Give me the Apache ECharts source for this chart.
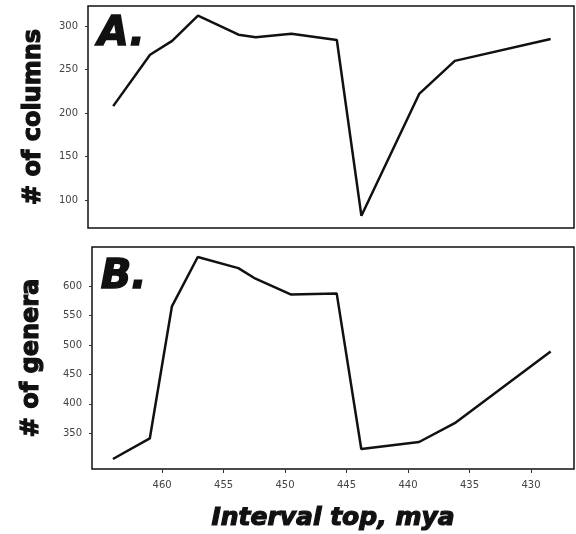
<!DOCTYPE html>
<html>
<head>
<meta charset="utf-8">
<script src="https://cdn.jsdelivr.net/npm/echarts@6/dist/echarts.min.js"></script>
<style>
  html, body { margin: 0; padding: 0; background: #fff; }
  #chart { width: 576px; height: 534px; }
</style>
</head>
<body>
<div id="chart"></div>
<script>
// interval tops (mya) shared by both panels
const intervalTops = [464.0, 461.0, 459.2, 457.1, 453.8, 452.4, 449.5, 445.8, 443.8, 439.1, 436.2, 428.4];
// panel A: number of columns
const columnCounts = [208, 267, 283, 312, 290, 287, 291, 284, 82, 222, 260, 285];
// panel B: number of genera
const generaCounts = [306, 341, 566, 650, 631, 613, 586, 588, 323, 335, 367, 489];
// tick labels
const columnTicks = [100, 150, 200, 250, 300];
const generaTicks = [350, 400, 450, 500, 550, 600];
const myaTicks = [430, 435, 440, 445, 450, 455, 460];

const chart = echarts.init(document.getElementById('chart'));

const pairs = (xs, ys) => xs.map((x, i) => [x, ys[i]]);

const labelStyle = {color: '#444', fontSize: 10, fontFamily: 'DejaVu Sans'};
// heavy titles: bold plus a thin stroke to thicken the glyphs
const titleStyle = {
  fontFamily: 'DejaVu Sans', fontWeight: 'bold', fontSize: 24, color: '#111',
  textBorderColor: '#111', textBorderWidth: 1.2
};

const option = {
  animation: false,
  backgroundColor: '#fff',
  grid: [
    {left: 88, top: 6, width: 486, height: 222, show: true, borderColor: '#111', borderWidth: 1.5},
    {left: 92, top: 247, width: 482, height: 222, show: true, borderColor: '#111', borderWidth: 1.5}
  ],
  xAxis: [
    {
      type: 'value', gridIndex: 0, inverse: true, min: 426.5, max: 466.05,
      axisLine: {show: false}, axisTick: {show: false}, axisLabel: {show: false}, splitLine: {show: false}
    },
    {
      type: 'value', gridIndex: 1, inverse: true, min: 426.5, max: 465.7,
      axisLine: {show: false},
      axisTick: {show: true, length: 4, lineStyle: {color: '#333'}, customValues: myaTicks},
      axisLabel: Object.assign({margin: 11, customValues: myaTicks}, labelStyle),
      splitLine: {show: false},
      name: 'Interval top, mya', nameLocation: 'middle', nameGap: 37,
      nameTextStyle: Object.assign({}, titleStyle, {fontStyle: 'italic', fontSize: 25})
    }
  ],
  yAxis: [
    {
      type: 'value', gridIndex: 0, min: 68, max: 323,
      axisLine: {show: false},
      axisTick: {show: true, length: 3, lineStyle: {color: '#333'}, customValues: columnTicks},
      axisLabel: Object.assign({margin: 10, customValues: columnTicks}, labelStyle),
      splitLine: {show: false},
      name: '# of columns', nameLocation: 'middle', nameGap: 42, nameTextStyle: titleStyle
    },
    {
      type: 'value', gridIndex: 1, min: 289, max: 667,
      axisLine: {show: false},
      axisTick: {show: true, length: 3, lineStyle: {color: '#333'}, customValues: generaTicks},
      axisLabel: Object.assign({margin: 10, customValues: generaTicks}, labelStyle),
      splitLine: {show: false},
      name: '# of genera', nameLocation: 'middle', nameGap: 48, nameTextStyle: titleStyle
    }
  ],
  graphic: [
    {type: 'text', left: 97, top: 14, style: {text: 'A.', font: 'italic bold 40px "DejaVu Sans"', fill: '#111', stroke: '#111', lineWidth: 1.5}},
    {type: 'text', left: 100, top: 257, style: {text: 'B.', font: 'italic bold 40px "DejaVu Sans"', fill: '#111', stroke: '#111', lineWidth: 1.5}}
  ],
  series: [
    {
      type: 'line', xAxisIndex: 0, yAxisIndex: 0, data: pairs(intervalTops, columnCounts),
      symbol: 'none', lineStyle: {color: '#111', width: 2.5}
    },
    {
      type: 'line', xAxisIndex: 1, yAxisIndex: 1, data: pairs(intervalTops, generaCounts),
      symbol: 'none', lineStyle: {color: '#111', width: 2.5}
    }
  ]
};

chart.setOption(option);
</script>
</body>
</html>
